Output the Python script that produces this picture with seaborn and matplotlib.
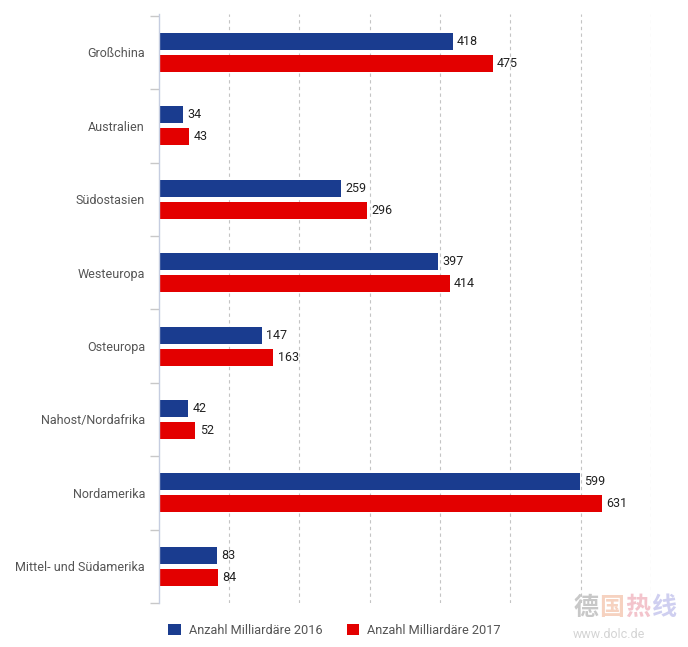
import matplotlib
matplotlib.use("Agg")
import matplotlib.pyplot as plt
import seaborn as sns
import pandas as pd
import numpy as np
from matplotlib.patches import Patch

categories = ["Großchina", "Australien", "Südostasien", "Westeuropa", "Osteuropa",
              "Nahost/Nordafrika", "Nordamerika", "Mittel- und Südamerika"]
values_2016 = [418, 34, 259, 397, 147, 42, 599, 83]
values_2017 = [475, 43, 296, 414, 163, 52, 631, 84]
series = ["Anzahl Milliardäre 2016", "Anzahl Milliardäre 2017"]
colors = ["#1a3c8f", "#e30000"]

df = pd.DataFrame({
    "Region": categories * 2,
    "Wert": values_2016 + values_2017,
    "Serie": [series[0]] * len(categories) + [series[1]] * len(categories),
})

sns.set_style("white")
plt.rcParams["font.family"] = ["Roboto", "DejaVu Sans"]

fig = plt.figure(figsize=(6.88, 6.47), dpi=100)
ax = fig.add_axes([0.231, 0.068, 0.715, 0.910])

sns.barplot(data=df, y="Region", x="Wert", hue="Serie", order=categories,
            hue_order=series, palette=colors, orient="h", width=0.6, gap=0.227,
            saturation=1, linewidth=0, edgecolor="none", ax=ax, legend=False)

for cont in ax.containers:
    ax.bar_label(cont, padding=3, fontsize=9, color="#222222")

ax.set_xlim(0, 700)
ax.set_ylim(len(categories) - 0.5 - 0.02, -0.5 - 0.02)
ax.set_xticks(np.arange(100, 701, 100))
ax.set_xticklabels([])
ax.tick_params(axis="x", length=0)
ax.grid(axis="x", color="#c4c4c4", linestyle=(0, (3, 3)), linewidth=0.8)
ax.set_axisbelow(True)

ax.set_yticks(range(len(categories)))
ax.set_yticklabels(categories, fontsize=9, color="#555555")
ax.tick_params(axis="y", which="major", left=False, length=0, pad=10)
ax.set_yticks(np.arange(-0.5, len(categories), 1.0), minor=True)
ax.tick_params(axis="y", which="minor", left=True, length=6.5, color="#c8c8c8", width=1)

for s in ["top", "right", "bottom"]:
    ax.spines[s].set_visible(False)
ax.spines["left"].set_color("#c5cde0")
ax.spines["left"].set_linewidth(1)

ax.set_xlabel("")
ax.set_ylabel("")

h = [Patch(facecolor=c, edgecolor="none") for c in colors]
fig.legend(h, series, loc="center", bbox_to_anchor=(0.486, 0.026), ncol=2,
           frameon=False, fontsize=9.2, handlelength=1.0, handleheight=1.0,
           handletextpad=0.6, columnspacing=1.9, labelcolor="#555555")

wm = [("德", "#c8c8c8"), ("国", "#f6d2c0"), ("热", "#f3c4cc"), ("线", "#cfcff0")]
for i, (ch, c) in enumerate(wm):
    fig.text(0.833 + i * 0.038, 0.060, ch, fontsize=18, color=c, weight="bold",
             family=["Noto Sans CJK SC", "DejaVu Sans"], ha="left", va="center")
fig.text(0.833, 0.019, "www.dolc.de", fontsize=9, color="#d4d4d4", ha="left", va="center")

fig.savefig("out.png", dpi=100)
